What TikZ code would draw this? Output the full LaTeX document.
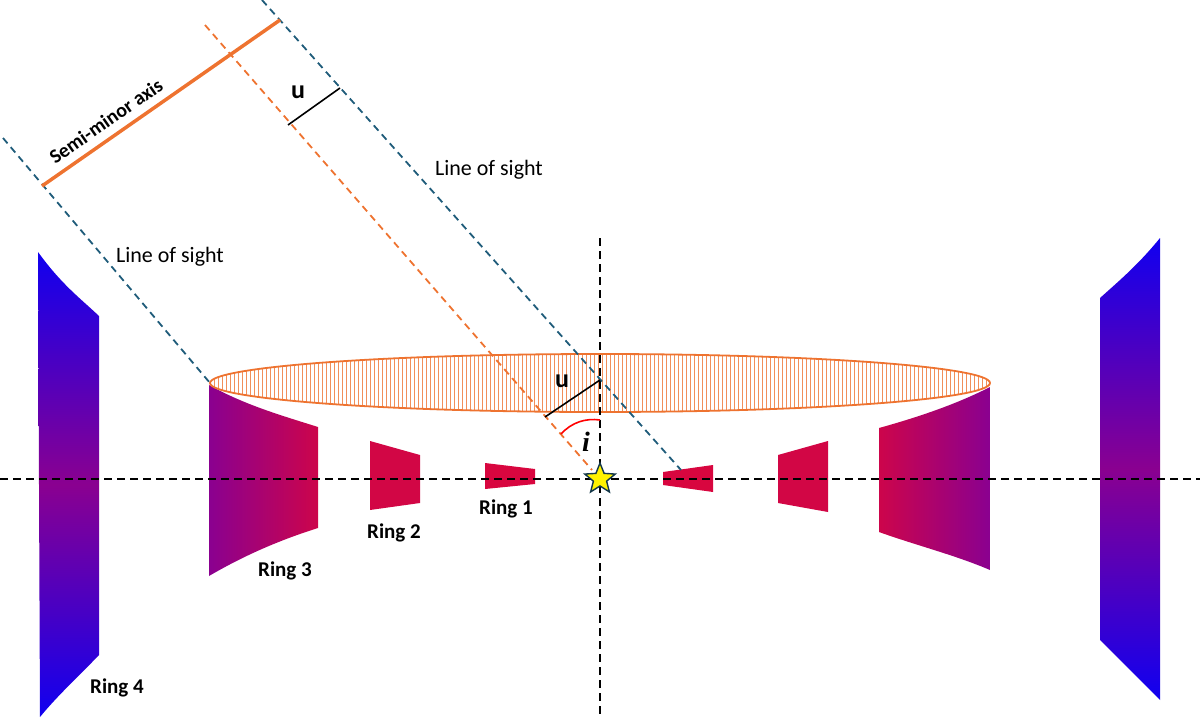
\documentclass[tikz,border=0pt]{standalone}
\usepackage{fontspec}
\setmainfont{Carlito}
\newfontfamily\serifit{Liberation Serif}
\usetikzlibrary{shapes.geometric}
\definecolor{los}{HTML}{1F5C7A}
\definecolor{org}{HTML}{EE7330}
\definecolor{crim}{HTML}{D8063F}
\definecolor{purp}{HTML}{8A0090}
\definecolor{blu}{HTML}{1000F0}
\tikzset{
 losline/.style={los,dash pattern=on 7pt off 5pt,line width=1.8pt},
 orgdash/.style={org,dash pattern=on 7pt off 5pt,line width=1.8pt},
 axisline/.style={black,dash pattern=on 8pt off 5pt,line width=1.6pt},
 lbl/.style={font=\fontsize{22}{24}\selectfont},
 rlbl/.style={font=\fontsize{21}{24}\selectfont\bfseries},
}
\begin{document}
\begin{tikzpicture}[x=1pt,y=-1pt]
\useasboundingbox (0,0) rectangle (1200,718);
% rings 4
\shade[top color=blu,bottom color=blu,middle color=purp] (38,252) .. controls (62,285) and (80,298) .. (99,316) -- (99,655) .. controls (80,675) and (58,695) .. (40,717) -- cycle;
\shade[top color=blu,bottom color=blu,middle color=purp] (1160,238) .. controls (1138,265) and (1120,280) .. (1100,298) -- (1100,640) .. controls (1120,660) and (1140,680) .. (1160,700) -- cycle;
% rings 3
\shade[left color=purp,right color=crim!85!purp] (209,385) .. controls (245,405) and (280,415) .. (318,427) -- (318,528) .. controls (280,540) and (245,555) .. (209,576) -- cycle;
\shade[left color=crim!85!purp,right color=purp] (990,387) .. controls (955,405) and (915,418) .. (879,428) -- (879,532) .. controls (915,545) and (955,555) .. (990,570) -- cycle;
% rings 2,1
\fill[crim!92!purp] (370,441) -- (420,455) -- (420,503) -- (370,510) -- cycle;
\fill[crim!92!purp] (828,441) -- (778,455) -- (778,503) -- (828,512) -- cycle;
\fill[crim] (485,463) -- (535,469) -- (535,484) -- (485,489) -- cycle;
\fill[crim] (713,465) -- (663,472) -- (663,485) -- (713,492) -- cycle;
% ellipse
\node[ellipse,minimum width=780pt,minimum height=58pt,inner sep=0pt] (disk) at (600,383) {};
\begin{scope}
\clip (600,383) ellipse [x radius=390,y radius=29];
\fill[white] (600,383) ellipse [x radius=390,y radius=29];
\foreach \k in {0,...,195} {\draw[org!80,line width=0.7pt] (210+4*\k,350) -- (210+4*\k,416);}
\end{scope}
\draw[org,line width=1.8pt] (600,383) ellipse [x radius=390,y radius=29];
% axes
\coordinate (hl) at (0,479); \coordinate (hr) at (1200,479);
\coordinate (vt) at (600,238); \coordinate (vb) at (600,718);
\draw[axisline] (hl) -- (hr);
\draw[axisline] (vt) -- (vb);
% lines of sight
\coordinate (l1a) at (3,138); \coordinate (l1b) at (210,383);
\coordinate (l2a) at (262,0); \coordinate (l2b) at (681,470);
\coordinate (oa) at (205,25); \coordinate (ob) at (592,470);
\draw[losline] (l1a) -- (l1b);
\draw[losline] (l2a) -- (l2b);
\draw[orgdash] (oa) -- (ob);
% semi-minor axis
\coordinate (sa) at (42,186); \coordinate (sb) at (280,20);
\draw[org,line width=3.5pt] (sa) -- (sb);
\node[rotate=34.9,font=\fontsize{20}{22}\selectfont\bfseries] (smlab) at (106,121) {Semi-minor axis};
% u segments
\coordinate (u1a) at (288,125); \coordinate (u1b) at (340,88);
\draw[black,line width=1.6pt] (u1a) -- (u1b);
\node[font=\fontsize{26}{26}\selectfont\bfseries] (ulab1) at (298,92) {u};
\coordinate (u2a) at (545,417); \coordinate (u2b) at (600,380);
\draw[black,line width=1.6pt] (u2a) -- (u2b);
\node[font=\fontsize{26}{26}\selectfont\bfseries] (ulab2) at (562,381) {u};
% angle
\coordinate (star) at (600,479);
\draw[red,line width=1.6pt] (561,434) .. controls (572,422) and (586,418) .. (600,420);
\node[font=\fontsize{28}{28}\selectfont\serifit\bfseries\itshape] (ilab) at (586,442) {i};
\node[star,star points=5,star point ratio=2.3,fill=yellow,draw=los!60!black,line width=1.4pt,minimum size=32pt,inner sep=0pt] (st) at (star) {};
% labels
\node[lbl] (los1) at (489,170) {Line of sight};
\node[lbl] (los2) at (170,257) {Line of sight};
\node[rlbl] (r1) at (506,509) {Ring 1};
\node[rlbl] (r2) at (394,533) {Ring 2};
\node[rlbl] (r3) at (285,571) {Ring 3};
\node[rlbl] (r4) at (117,688) {Ring 4};
\end{tikzpicture}
\end{document}
